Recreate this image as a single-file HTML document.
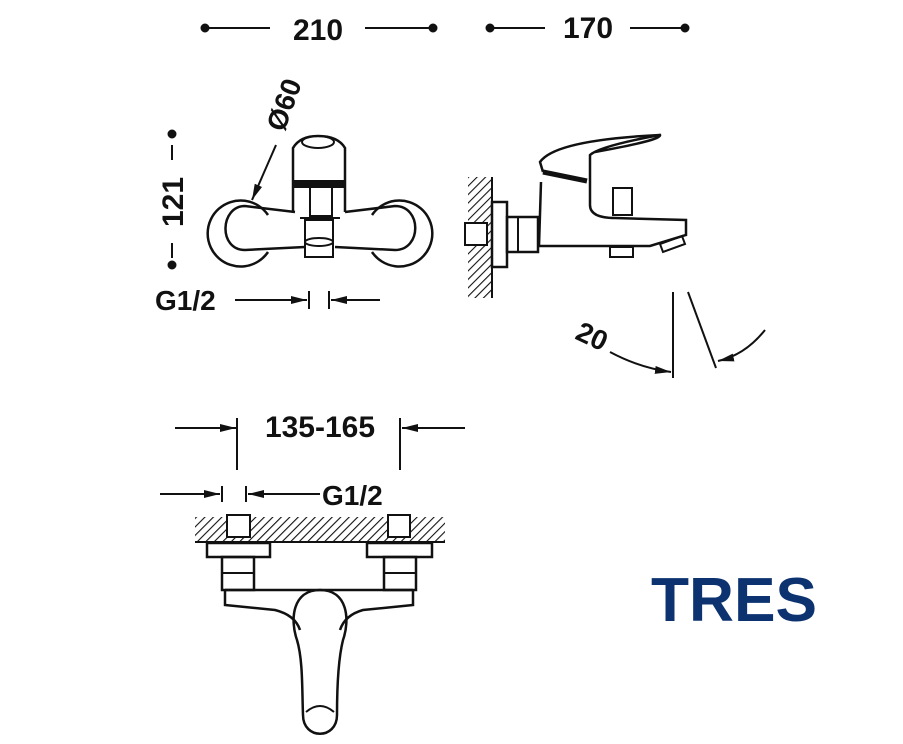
<!DOCTYPE html>
<html><head><style>body{margin:0;background:#fff}svg{display:block}text{font-family:"Liberation Sans",sans-serif;font-weight:bold;fill:#111}</style></head>
<body>
<svg width="903" height="744" viewBox="0 0 903 744" xmlns="http://www.w3.org/2000/svg">
<defs>
<pattern id="h" width="6" height="6" patternUnits="userSpaceOnUse" patternTransform="rotate(45)"><line x1="0" y1="0" x2="0" y2="6" stroke="#111" stroke-width="2.2"/></pattern>
<marker id="b" viewBox="0 0 16 8" refX="16" refY="4" markerWidth="16" markerHeight="8" orient="auto" markerUnits="userSpaceOnUse"><path d="M0,0L16,4L0,8z" fill="#111"/></marker>
</defs>
<g stroke="#111" stroke-width="2" fill="none">
<circle cx="205" cy="28" r="3.5" fill="#111"/><circle cx="433" cy="28" r="3.5" fill="#111"/>
<line x1="205" y1="28" x2="270" y2="28"/><line x1="365" y1="28" x2="433" y2="28"/>
<circle cx="490" cy="28" r="3.5" fill="#111"/><circle cx="685" cy="28" r="3.5" fill="#111"/>
<line x1="490" y1="28" x2="545" y2="28"/><line x1="630" y1="28" x2="685" y2="28"/>
<circle cx="172" cy="134" r="3.5" fill="#111"/><circle cx="172" cy="265" r="3.5" fill="#111"/>
<line x1="172" y1="145" x2="172" y2="160"/><line x1="172" y1="243" x2="172" y2="258"/>
<line x1="276" y1="145" x2="252" y2="200" marker-end="url(#b)"/>
<path d="M268,215 A33,33 0 1 0 268,252" stroke-width="2.5"/>
<path d="M372,215 A33,33 0 1 1 372,252" stroke-width="2.5"/>
<path d="M295,212 L245,206 C220,206 218,250 245,250 L305,247 M335,247 L395,250 C422,250 422,206 395,206 L345,212" stroke-width="2.5"/>
<path d="M293,212 L293,148 Q300,136 318,136 Q338,136 345,148 L345,212" stroke-width="2.5"/>
<ellipse cx="318" cy="142" rx="16" ry="6"/>
<rect x="293" y="181" width="52" height="6" fill="#111"/>
<rect x="310" y="187" width="22" height="29"/>
<rect x="305" y="220" width="28" height="37"/>
<ellipse cx="319" cy="242" rx="14" ry="4"/>
<line x1="300" y1="218" x2="340" y2="218"/>
<line x1="235" y1="300" x2="307" y2="300" marker-end="url(#b)"/>
<line x1="309" y1="291" x2="309" y2="309"/><line x1="329" y1="291" x2="329" y2="309"/>
<line x1="380" y1="300" x2="331" y2="300" marker-end="url(#b)"/>
<rect x="468" y="177" width="24" height="121" fill="url(#h)" stroke="none"/>
<line x1="492" y1="177" x2="492" y2="298"/>
<rect x="465" y="223" width="22" height="22" fill="#fff"/>
<rect x="492" y="202" width="15" height="65" fill="#fff" stroke-width="2.5"/>
<rect x="507" y="217" width="31" height="35" stroke-width="2.5"/><line x1="518" y1="217" x2="518" y2="252"/>
<path d="M541,182 L539,246 L650,246 L686,235 L686,220 L615,218 Q590,218 590,205 L590,155 Q600,146 660,135 Q662,140 595,152" stroke-width="2.5"/>
<path d="M543,172 L540,162 Q555,140 660,135" stroke-width="2.5"/>
<path d="M543,172 L587,181" stroke-width="5"/>
<rect x="613" y="188" width="19" height="27"/>
<rect x="610" y="247" width="23" height="10"/>
<path d="M660,244 L682,236 L685,244 L663,252z"/>
<line x1="673" y1="292" x2="673" y2="378"/>
<line x1="688" y1="292" x2="716" y2="368"/>
<path d="M610,352 Q640,368 671,372" marker-end="url(#b)"/>
<path d="M765,330 Q745,355 718,361" marker-end="url(#b)"/>
<line x1="175" y1="428" x2="236" y2="428" marker-end="url(#b)"/>
<line x1="237" y1="418" x2="237" y2="470"/><line x1="400" y1="418" x2="400" y2="470"/>
<line x1="465" y1="428" x2="402" y2="428" marker-end="url(#b)"/>
<line x1="160" y1="494" x2="220" y2="494" marker-end="url(#b)"/>
<line x1="222" y1="486" x2="222" y2="502"/><line x1="246" y1="486" x2="246" y2="502"/>
<line x1="320" y1="494" x2="248" y2="494" marker-end="url(#b)"/>
<rect x="195" y="517" width="250" height="25" fill="url(#h)" stroke="none"/>
<line x1="195" y1="542" x2="445" y2="542"/>
<rect x="227" y="515" width="23" height="22" fill="#fff"/><rect x="388" y="515" width="22" height="22" fill="#fff"/>
<rect x="207" y="543" width="63" height="14" stroke-width="2.5"/><rect x="367" y="543" width="65" height="14" stroke-width="2.5"/>
<rect x="222" y="557" width="32" height="33" stroke-width="2.5"/><line x1="222" y1="573" x2="254" y2="573"/>
<rect x="384" y="557" width="32" height="33" stroke-width="2.5"/><line x1="384" y1="573" x2="416" y2="573"/>
<path d="M225,590 L413,590 M225,590 L225,605 L275,610 Q295,615 300,630 M413,590 L413,605 L363,610 Q345,615 340,630" stroke-width="2.5"/>
<path d="M320,590 C292,590 290,620 297,640 C303,660 302,690 303,715 C303,740 337,740 337,715 C337,690 338,660 343,640 C350,620 348,590 320,590z" stroke-width="2.5"/>
<path d="M306,712 Q320,700 334,712" />
</g>
<text x="318" y="40" font-size="30" text-anchor="middle">210</text>
<text x="588" y="38" font-size="30" text-anchor="middle">170</text>
<text transform="translate(183,202) rotate(-90)" font-size="30" text-anchor="middle">121</text>
<text transform="translate(293,108) rotate(-70)" font-size="28" text-anchor="middle">Ø60</text>
<text x="155" y="310" font-size="28">G1/2</text>
<text transform="translate(588,345) rotate(25)" font-size="28" text-anchor="middle">20</text>
<text x="320" y="437" font-size="30" text-anchor="middle">135-165</text>
<text x="322" y="505" font-size="28">G1/2</text>
<text x="651" y="621" font-size="62" style="fill:#0d3270" textLength="166" lengthAdjust="spacingAndGlyphs">TRES</text>
</svg>
</body></html>
